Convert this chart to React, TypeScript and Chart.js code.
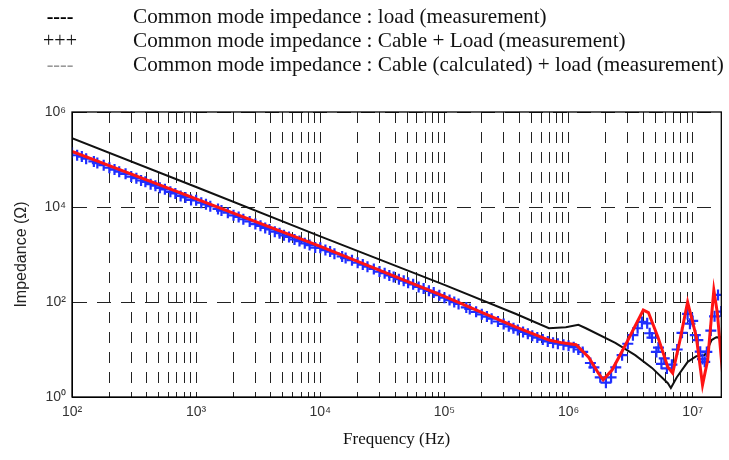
import { useEffect, useRef } from 'react';
import { Chart, registerables } from 'chart.js';

Chart.register(...registerables);

// Common mode impedance : load (measurement) - black line
const loadFreq = [100, 1000, 10000, 100000, 378000, 695000, 950000, 1200000, 1380000, 2380000, 3440000, 4700000, 6310000, 6670000, 7450000, 9120000, 10700000, 12500000, 14200000, 15500000, 17400000];
const loadZ = [282000, 26300, 2400, 230, 56, 28, 29.5, 33, 28, 13.8, 7.6, 4.1, 1.95, 1.55, 2.6, 5.5, 7.2, 7.6, 15.8, 18.2, 17.8];

// Common mode impedance : Cable (calculated) + load (measurement) - red line
const calcFreq = [100, 1000, 10000, 100000, 378000, 695000, 890000, 1150000, 1450000, 1740000, 1900000, 2240000, 2880000, 4000000, 4400000, 5250000, 6300000, 6900000, 7900000, 9100000, 10700000, 12000000, 13200000, 14800000, 15800000, 17400000];
const calcZ = [148000, 14800, 1480, 132, 29.5, 15.8, 13.8, 12.6, 6.9, 3.16, 2.3, 3.7, 12.6, 67.6, 60, 18.2, 4.3, 3.2, 15.8, 100, 18.2, 1.8, 6.0, 178, 59, 3.2];

// Common mode impedance : Cable + Load (measurement) - blue crosses
const cableFreq = [
  100, 110, 120, 130, 150, 160, 180, 200, 220, 240, 270, 300, 330, 360, 390, 430, 470, 510, 560, 620, 680, 750, 820, 910,
  1000, 1100, 1200, 1300, 1500, 1600, 1800, 2000, 2200, 2400, 2700, 3000, 3300, 3600, 3900, 4300, 4700, 5100, 5600, 6200, 6800, 7500, 8200, 9100,
  10000, 11000, 12000, 13000, 15000, 16000, 18000, 20000, 22000, 24000, 27000, 30000, 33000, 36000, 39000, 43000, 47000, 51000, 56000, 62000, 68000, 75000, 82000, 91000,
  100000, 110000, 120000, 130000, 150000, 160000, 180000, 200000, 220000, 240000, 270000, 300000, 330000, 360000, 390000, 430000, 470000, 510000, 560000, 620000, 680000, 750000, 820000, 910000,
  1000000, 1100000, 1200000, 1300000, 1500000, 1600000, 1800000, 2000000, 2200000, 2400000, 2700000, 3000000, 3300000, 3600000, 3900000, 4300000, 4700000, 5100000, 5600000, 6200000, 6800000, 7500000, 8200000, 9100000,
  10000000, 11000000, 12000000, 13000000, 15000000, 16000000, 17000000,
  4500000, 5300000, 5900000, 9500000, 10500000, 11500000, 12500000, 14000000,
];
const cableZ = [
  139000, 123000, 115000, 104000, 91300, 84200, 76000, 67100, 61500, 55300, 49900, 43700, 40400, 36100, 33900, 30200, 28100, 25300, 23500, 20900, 19300, 17100, 15900, 14100,
  13800, 12300, 11400, 10400, 9110, 8390, 7580, 6690, 6160, 5520, 4970, 4360, 4020, 3610, 3370, 3020, 2800, 2530, 2340, 2080, 1920, 1720, 1580, 1400,
  1380, 1240, 1150, 1040, 913, 840, 758, 670, 615, 552, 497, 438, 404, 362, 338, 302, 281, 254, 235, 208, 192, 172, 158, 139,
  123, 110, 99.5, 90.8, 76.9, 71.3, 62.2, 55.1, 49.3, 44.6, 38.9, 34.4, 30.8, 27.9, 25.7, 23.4, 21.4, 19.5, 17.8, 16.2, 14.8, 13.8, 13.2, 12.6,
  12, 11.2, 10, 8.9, 5.2, 4.2, 2.6, 2.0, 2.6, 4.2, 7.6, 13.2, 20, 28, 38, 35.5, 17.8, 8.9, 5.0, 4.0, 4.8, 10, 22.4, 56,
  40, 15.8, 6.3, 8.9, 50, 141, 63,
  22, 11, 6.5, 35, 20, 9, 5.5, 25,
];

const decades = [1e2, 1e3, 1e4, 1e5, 1e6, 1e7];
const decadeLabels = ['10²', '10³', '10⁴', '10⁵', '10⁶', '10⁷'];
const mantissas = [1, 2, 3, 4, 5, 6, 7, 8, 9];
const yTicks = [1, 1e2, 1e4, 1e6];
const yLabels = ['10⁰', '10²', '10⁴', '10⁶'];

const legendRows = [
  { mark: '----', color: '#000', weight: 'bold', text: 'Common mode impedance : load (measurement)' },
  { mark: '+++', color: '#111', weight: 'normal', text: 'Common mode impedance : Cable + Load (measurement)' },
  { mark: '----', color: '#999', weight: 'normal', text: 'Common mode impedance : Cable (calculated) + load (measurement)' },
];
const legendTops = [6, 30, 54];

const xGrid = decades.flatMap((d) => (d === 1e7 ? [d] : mantissas.map((m) => m * d)));

const toPoints = (fs: number[], zs: number[]) => fs.map((f, i) => ({ x: f, y: zs[i] }));

const framePlugin = {
  id: 'frame',
  afterDraw(chart: any) {
    const { ctx, chartArea: a } = chart;
    ctx.save();
    ctx.strokeStyle = '#000';
    ctx.lineWidth = 1.3;
    ctx.strokeRect(a.left, a.top, a.right - a.left, a.bottom - a.top);
    ctx.restore();
  },
};

const ImpedanceChart = () => {
  const canvasRef = useRef<HTMLCanvasElement>(null);

  useEffect(() => {
    if (!canvasRef.current) return;
    const chart = new Chart(canvasRef.current, {
      type: 'scatter',
      data: {
        datasets: [
          {
            label: 'Cable (calculated) + load (measurement)',
            data: toPoints(calcFreq, calcZ),
            showLine: true,
            borderColor: '#ff1414',
            borderWidth: 3,
            pointRadius: 0,
          },
          {
            label: 'Cable + Load (measurement)',
            data: toPoints(cableFreq, cableZ),
            showLine: false,
            pointStyle: 'cross',
            pointRadius: 5.5,
            pointBorderWidth: 2.2,
            pointBorderColor: '#1f2eff',
            pointBackgroundColor: '#1f2eff',
          },
          {
            label: 'load (measurement)',
            data: toPoints(loadFreq, loadZ),
            showLine: true,
            borderColor: '#111',
            borderWidth: 2,
            pointRadius: 0,
          },
        ],
      },
      options: {
        animation: false,
        responsive: true,
        maintainAspectRatio: false,
        layout: { padding: { top: 112, right: 2, left: 0, bottom: 0 } },
        plugins: {
          legend: { display: false },
          tooltip: { enabled: false },
        },
        scales: {
          x: {
            type: 'logarithmic',
            min: 100,
            max: 1.7e7,
            afterBuildTicks: (axis: any) => {
              axis.ticks = xGrid.map((v) => ({ value: v }));
            },
            afterFit: (axis: any) => {
              axis.height = 63;
            },
            ticks: {
              autoSkip: false,
              maxRotation: 0,
              padding: 7,
              color: '#333',
              font: { family: 'Liberation Sans', size: 14 },
              callback: (v: any) => {
                const i = decades.indexOf(Number(v));
                return i >= 0 ? decadeLabels[i] : '';
              },
            },
            grid: { color: '#222', lineWidth: 1, drawTicks: false },
            border: { dash: [11, 9], color: '#000' },
            title: {
              display: true,
              text: 'Frequency (Hz)',
              color: '#111',
              font: { family: 'Liberation Serif', size: 17 },
              padding: 10,
            },
          },
          y: {
            type: 'logarithmic',
            min: 1,
            max: 1e6,
            afterBuildTicks: (axis: any) => {
              axis.ticks = yTicks.map((v) => ({ value: v }));
            },
            afterFit: (axis: any) => {
              axis.width = 72;
            },
            ticks: {
              autoSkip: false,
              padding: 6,
              color: '#333',
              font: { family: 'Liberation Sans', size: 14 },
              callback: (v: any) => {
                const i = yTicks.indexOf(Number(v));
                return i >= 0 ? yLabels[i] : '';
              },
            },
            grid: { color: '#222', lineWidth: 1, drawTicks: false },
            border: { dash: [14, 10], color: '#000' },
            title: {
              display: true,
              text: 'Impedance (Ω)',
              color: '#222',
              font: { family: 'Liberation Sans', size: 16 },
              padding: 12,
            },
          },
        },
      },
      plugins: [framePlugin],
    });

    return () => {
      chart.destroy();
    };
  }, []);

  return (
    <div style={{ position: 'absolute', left: 0, top: 0, width: 729, height: 460 }}>
      <canvas ref={canvasRef}></canvas>
    </div>
  );
}

export default function App() {
  return (
    <div style={{ position: 'absolute', left: 0, top: 0, width: 729, height: 460, background: '#fff', overflow: 'hidden' }}>
      <ImpedanceChart />
      {legendRows.map((row, i) => (
        <div
          key={i}
          style={{
            position: 'absolute',
            left: 0,
            top: legendTops[i],
            height: 21,
            lineHeight: '21px',
            fontFamily: 'Liberation Serif',
            fontSize: 21.2,
            color: '#111',
            whiteSpace: 'nowrap',
          }}
        >
          <span style={{ position: 'absolute', left: 43, width: 34, textAlign: 'center', fontSize: 20, color: row.color, fontWeight: row.weight as any }}>
            {row.mark}
          </span>
          <span style={{ position: 'absolute', left: 133 }}>{row.text}</span>
        </div>
      ))}
    </div>
  );
}
